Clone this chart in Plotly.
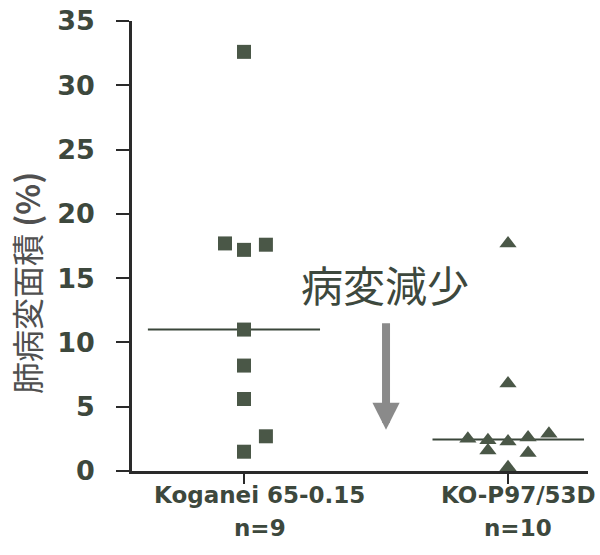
import numpy as np
import plotly.graph_objects as go

# ---- data ----
categories = ["Koganei 65-0.15", "KO-P97/53D"]
n_labels = ["n=9", "n=10"]
category_x = [1, 2]

koganei_values = [32.6, 17.7, 17.2, 17.6, 11.0, 8.2, 5.6, 2.7, 1.5]
koganei_jitter = [0, -0.072, 0, 0.083, 0, 0, 0, 0.083, 0]

ko_values = [17.7, 6.8, 2.5, 2.4, 2.3, 2.6, 2.9, 1.6, 1.4, 0.3]
ko_jitter = [0, 0, -0.152, -0.076, 0, 0.076, 0.155, -0.076, 0.076, 0]

y_ticks = [0, 5, 10, 15, 20, 25, 30, 35]
y_title = "肺病変面積 <b>(%)</b>"
arrow_label = "病変減少"

# ---- style ----
mark_color = "#4a5747"
text_color = "#3d483d"
axis_color = "#2a2a2a"
font_num = "DejaVu Sans"
font_cjk = "Noto Sans CJK JP"

fig = go.Figure()

groups = [
    (koganei_values, koganei_jitter, "square", 14, (-0.364, 0.288)),
    (ko_values, ko_jitter, "triangle-up", 15, (-0.286, 0.288)),
]

for cx, (vals, jit, sym, size, ext) in zip(category_x, groups):
    med = float(np.median(vals))
    fig.add_trace(go.Scatter(
        x=[cx + ext[0], cx + ext[1]], y=[med, med], mode="lines",
        line=dict(color="#3a463a", width=2), showlegend=False, hoverinfo="skip",
    ))
    fig.add_trace(go.Scatter(
        x=[cx + j for j in jit], y=vals, mode="markers",
        marker=dict(symbol=sym, size=size, color=mark_color, line=dict(width=0)),
        showlegend=False, cliponaxis=False,
    ))

# category labels (two lines each)
label_shift = [16, 10]
for cx, cat, n, sh in zip(category_x, categories, n_labels, label_shift):
    for txt, ysh in ((cat, -24), (n, -57)):
        fig.add_annotation(
            x=cx, xref="x", y=0, yref="paper", yanchor="middle", xanchor="center",
            xshift=sh, yshift=ysh, showarrow=False, text=txt,
            font=dict(family=font_num, size=23, color=text_color, weight="bold"),
        )

# y title
fig.add_annotation(
    x=0, xref="paper", y=0.418, yref="paper", xanchor="center", yanchor="middle",
    xshift=-106, textangle=-90, showarrow=False, text=y_title,
    font=dict(family=font_cjk, size=32, color="#505050"),
)

# arrow + text
fig.add_annotation(
    x=1.538, y=3.2, xref="x", yref="y", ax=0, ay=-108, axref="pixel", ayref="pixel",
    showarrow=True, arrowhead=2, arrowwidth=8, arrowsize=0.68, arrowcolor="#8a8a8a",
    text="", standoff=0,
)
fig.add_annotation(
    x=1.534, y=14.6, xref="x", yref="y", showarrow=False, text=arrow_label,
    font=dict(family=font_cjk, size=42, color=text_color),
)

fig.update_xaxes(
    range=[0.5758, 2.303], showgrid=False, zeroline=False, automargin=False,
    showline=True, linecolor=axis_color, linewidth=2.5,
    tickvals=category_x, ticktext=["", ""], ticks="outside", ticklen=10,
    tickwidth=2, tickcolor=axis_color,
)
fig.update_yaxes(
    range=[0, 35], showgrid=False, zeroline=False, automargin=False,
    showline=True, linecolor=axis_color, linewidth=2.5,
    tickvals=y_ticks, ticks="outside", ticklen=13, tickwidth=2, tickcolor=axis_color,
    tickfont=dict(family=font_num, size=27, color=text_color, weight="bold"),
    ticklabelstandoff=16,
)
fig.update_layout(
    width=600, height=555,
    margin=dict(l=132, r=12, t=21, b=84, autoexpand=False),
    plot_bgcolor="white", paper_bgcolor="white",
    font=dict(family=font_num),
)

fig.write_html("out.html", config={"displayModeBar": False},
               post_script="document.body.style.margin='0';")
